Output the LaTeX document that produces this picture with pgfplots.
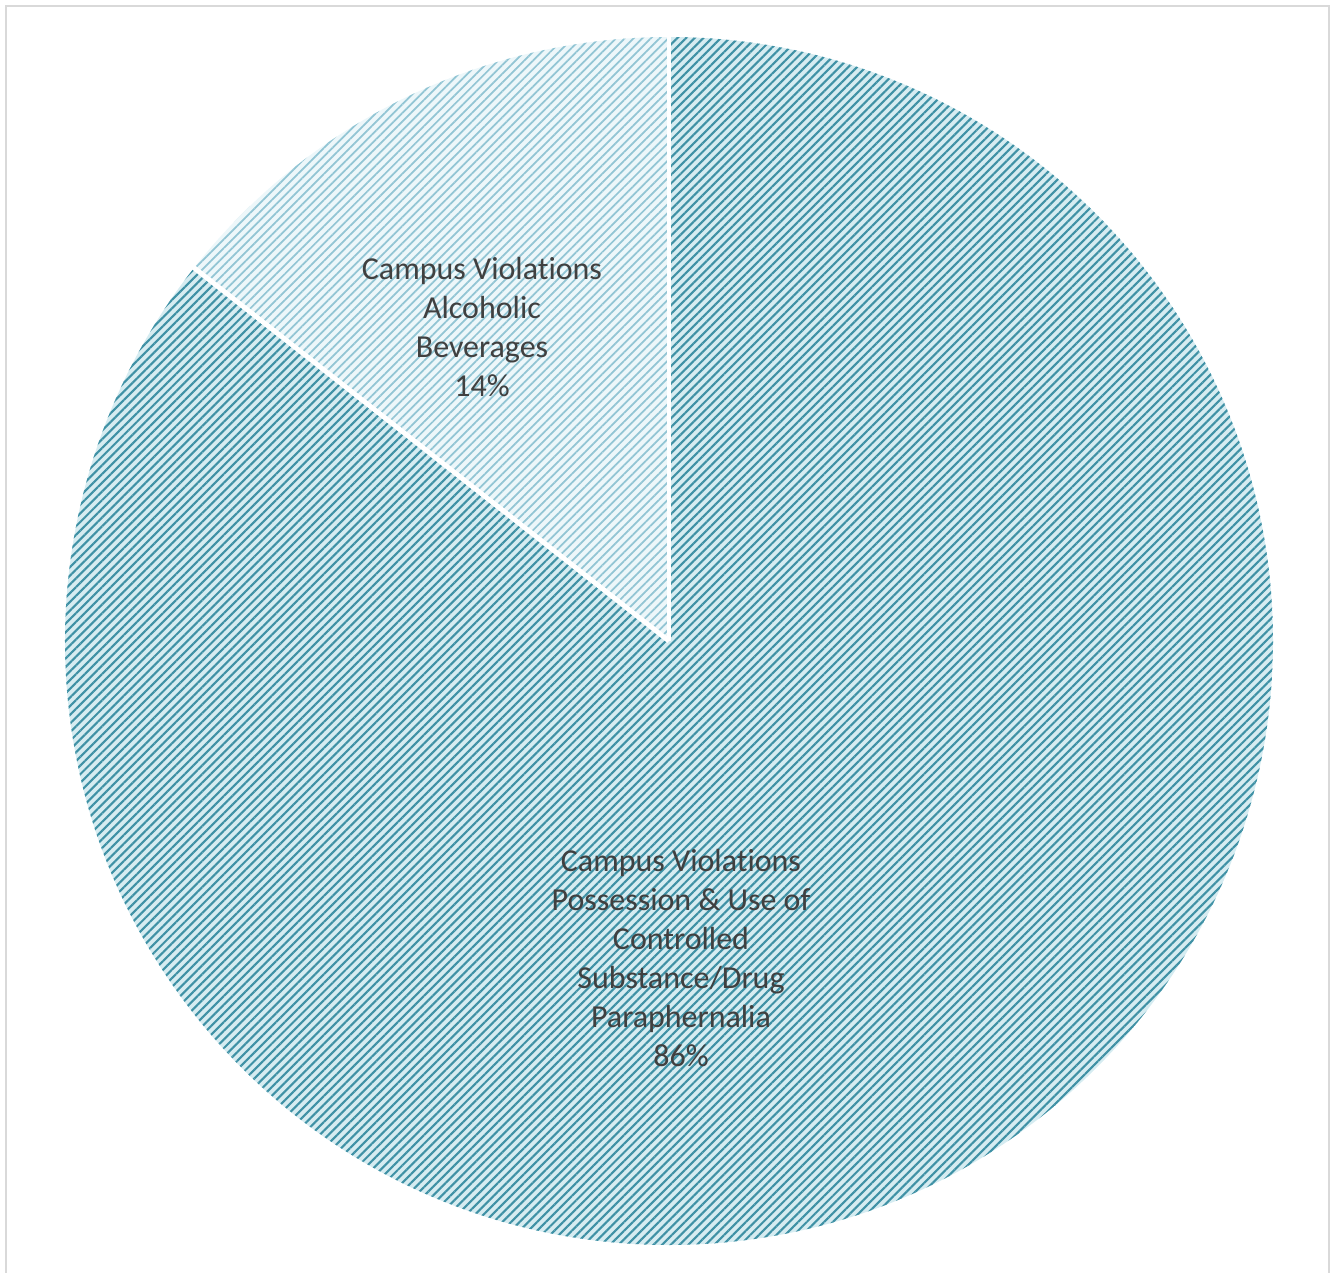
\documentclass[border=0pt]{standalone}
\usepackage{pgfplots}
\pgfplotsset{compat=1.18}
\usepackage{fontspec}
\setmainfont{Carlito}[Ligatures=NoCommon]
\usetikzlibrary{patterns.meta}
\definecolor{darkS}{HTML}{3F91A5}
\definecolor{lightS}{HTML}{D6ECF1}
\definecolor{darkA}{HTML}{92C5D4}
\definecolor{lightA}{HTML}{EDF7FA}
\definecolor{txt}{HTML}{404040}
\definecolor{frame}{HTML}{D9D9D9}
\begin{document}
\begin{tikzpicture}
\begin{axis}[at={(0,0)}, anchor=south west, scale only axis,
  width=13.36cm, height=12.72cm,
  xmin=0, xmax=1336, ymin=0, ymax=1272, hide axis]
% slice values (percent)
\pgfmathsetmacro{\va}{85.6}% Possession & Use of Controlled Substance/Drug Paraphernalia
\pgfmathsetmacro{\vb}{14.4}% Alcoholic Beverages
\pgfmathsetmacro{\frac}{\va/(\va+\vb)}
\pgfmathsetmacro{\aend}{90-360*\frac}
\draw[frame, line width=0.6pt] (axis cs:6,-20) rectangle (axis cs:1329,1266);
% big slice
\fill[lightS] (axis cs:669,631) -- ++(90:6.04cm) arc[start angle=90, end angle=\aend, radius=6.04cm] -- cycle;
\fill[pattern={Lines[angle=45, distance=1.75pt, line width=0.6pt]}, pattern color=darkS]
  (axis cs:669,631) -- ++(90:6.04cm) arc[start angle=90, end angle=\aend, radius=6.04cm] -- cycle;
% small slice
\fill[lightA] (axis cs:669,631) -- ++(\aend:6.04cm) arc[start angle=\aend, end angle=-270, radius=6.04cm] -- cycle;
\fill[pattern={Lines[angle=45, distance=1.75pt, line width=0.5pt]}, pattern color=darkA]
  (axis cs:669,631) -- ++(\aend:6.04cm) arc[start angle=\aend, end angle=-270, radius=6.04cm] -- cycle;
% separators
\draw[white, line width=1.4pt] (axis cs:669,631) -- ++(90:6.06cm);
\draw[white, line width=1.4pt] (axis cs:669,631) -- ++(\aend:6.06cm);
% labels
\node[align=center, text=txt, font=\fontsize{9.1}{11.1}\selectfont] at (axis cs:482,945)
  {Campus Violations\\Alcoholic\\Beverages\\14\%};
\node[align=center, text=txt, font=\fontsize{9.1}{11.1}\selectfont] at (axis cs:681,314)
  {Campus Violations\\Possession \& Use of\\Controlled\\Substance/Drug\\Paraphernalia\\86\%};
\end{axis}
\pgfresetboundingbox
\path (0,0) rectangle (13.36cm,12.72cm);
\end{tikzpicture}
\end{document}
